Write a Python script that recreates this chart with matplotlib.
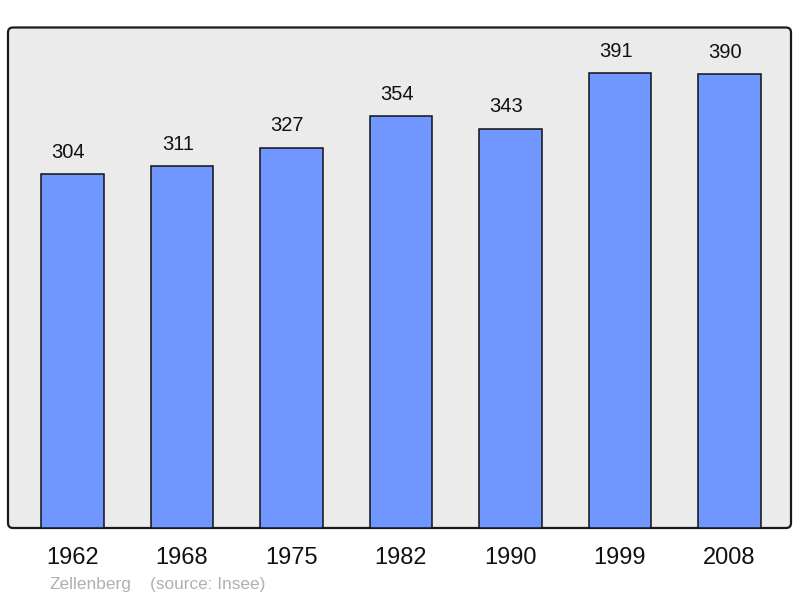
import matplotlib
matplotlib.use("Agg")
import matplotlib.pyplot as plt
from matplotlib.patches import FancyBboxPatch

years = ["1962", "1968", "1975", "1982", "1990", "1999", "2008"]
population = [304, 311, 327, 354, 343, 391, 390]
town = "Zellenberg"
source = "(source: Insee)"

plt.rcParams['font.family'] = ['Liberation Sans', 'DejaVu Sans']

fig = plt.figure(figsize=(8, 5.98), dpi=100, facecolor='white')
ax = fig.add_axes([8/800, 70/598, 783/800, 500.5/598])
ax.set_facecolor('none')
ax.set_zorder(2)

# rounded frame background
frame = FancyBboxPatch((0.08, 0.70), 7.83, 5.005,
                       boxstyle="round,pad=0,rounding_size=0.05",
                       transform=fig.dpi_scale_trans,
                       facecolor='#ebebeb', edgecolor='#1a1a1a', linewidth=1.6,
                       zorder=-1)
fig.patches.append(frame)

x = list(range(len(years)))
bars = ax.bar(x, population, width=0.572, color='#7096ff', edgecolor='#111111',
              linewidth=1.1, zorder=2)
for xi, v in zip(x, population):
    ax.annotate(str(v), (xi, v), xytext=(-3, 16), textcoords='offset points',
                ha='center', va='center', fontsize=14.5, color='#111111')

ax.set_xlim(-0.588, 6.563)
ax.set_ylim(0, 430.4)
for s in ax.spines.values():
    s.set_visible(False)
ax.set_yticks([])
ax.set_xticks(x)
ax.set_xticklabels(years, fontsize=17, color='#111111')
ax.tick_params(axis='x', length=0, pad=14)

fig.text(49/800, 1 - 584/598, town, fontsize=12.4, color='#b0b0b0', ha='left', va='center')
fig.text(150/800, 1 - 584/598, source, fontsize=12.4, color='#b0b0b0', ha='left', va='center')

fig.savefig("out.png", dpi=100)
